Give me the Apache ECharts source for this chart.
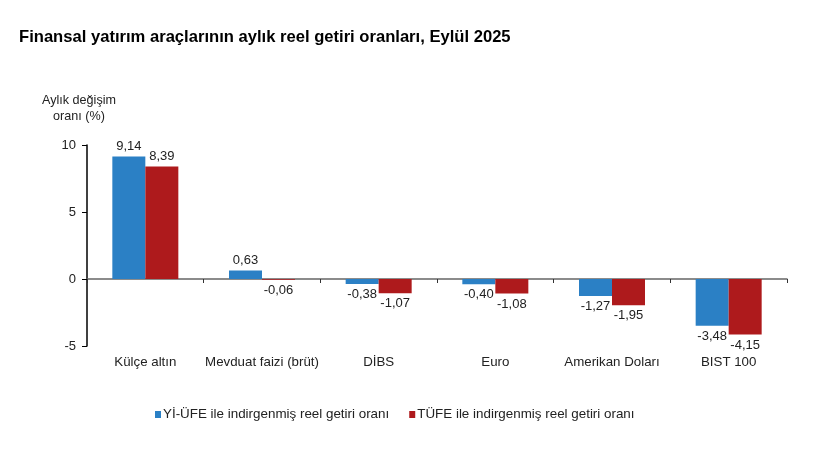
<!DOCTYPE html>
<html>
<head>
<meta charset="utf-8">
<script src="https://cdn.jsdelivr.net/npm/echarts@6/dist/echarts.min.js"></script>
<style>html,body{margin:0;padding:0;background:#fff}#c{width:833px;height:461px}</style>
</head>
<body>
<div id="c"></div>
<script>
const categories = ['Külçe altın', 'Mevduat faizi (brüt)', 'DİBS', 'Euro', 'Amerikan Doları', 'BIST 100'];
const yiufe = [9.14, 0.63, -0.38, -0.40, -1.27, -3.48];
const tufe = [8.39, -0.06, -1.07, -1.08, -1.95, -4.15];
const seriesNames = ['Yİ-ÜFE ile indirgenmiş reel getiri oranı', 'TÜFE ile indirgenmiş reel getiri oranı'];
const yTicks = [-5, 0, 5, 10];

const font = 'Liberation Sans, Arial, sans-serif';
const fmt = v => v.toFixed(2).replace('.', ',');
const mk = vals => vals.map(v => ({ value: v, label: { position: v < 0 ? 'bottom' : 'top' } }));

const chart = echarts.init(document.getElementById('c'));
chart.setOption({
  animation: false,
  textStyle: { fontFamily: font },
  title: {
    text: 'Finansal yatırım araçlarının aylık reel getiri oranları, Eylül 2025',
    left: 14, top: 24,
    textStyle: { fontFamily: font, fontSize: 16.6, fontWeight: 'bold', color: '#000' }
  },
  legend: {
    bottom: 35, left: 150,
    itemWidth: 6, itemHeight: 7, itemGap: 20,
    icon: 'rect',
    textStyle: { fontFamily: font, fontSize: 13.4, color: '#222', padding: [0, 0, 0, -3] },
    data: seriesNames
  },
  grid: { left: 87, right: 46, top: 145, bottom: 115, containLabel: false },
  xAxis: [
    {
      type: 'category', data: categories,
      axisLine: { onZero: true, lineStyle: { color: '#666', width: 1.5 } },
      axisTick: { show: true, interval: 0, length: 4, inside: false, lineStyle: { color: '#333' } },
      axisLabel: { show: false }
    },
    {
      type: 'category', data: categories, position: 'bottom',
      axisLine: { show: false, onZero: false },
      axisTick: { show: false },
      axisLabel: { show: true, interval: 0, margin: 10, fontSize: 13.3, color: '#222', fontFamily: font }
    }
  ],
  yAxis: {
    type: 'value', min: yTicks[0], max: yTicks[yTicks.length - 1], interval: 5,
    name: 'Aylık değişim\noranı (%)',
    nameLocation: 'end', nameGap: 20,
    nameTextStyle: { fontFamily: font, fontSize: 12.6, color: '#222', align: 'center', lineHeight: 16, padding: [0, 16, 0, 0] },
    axisLine: { show: true, lineStyle: { color: '#000', width: 1.5 } },
    axisTick: { show: true, length: 5, lineStyle: { color: '#000' } },
    axisLabel: { margin: 11, fontSize: 13, color: '#222', fontFamily: font },
    splitLine: { show: false }
  },
  series: [
    {
      name: seriesNames[0], type: 'bar', xAxisIndex: 0, data: mk(yiufe),
      barWidth: 33, barGap: '0%',
      itemStyle: { color: '#2b80c5' },
      label: { show: true, formatter: p => fmt(p.value), fontSize: 13, color: '#222', fontFamily: font, distance: 4 }
    },
    {
      name: seriesNames[1], type: 'bar', xAxisIndex: 0, data: mk(tufe),
      barWidth: 33, barGap: '0%',
      itemStyle: { color: '#ae1a1c' },
      label: { show: true, formatter: p => fmt(p.value), fontSize: 13, color: '#222', fontFamily: font, distance: 4 }
    }
  ]
});
</script>
</body>
</html>
